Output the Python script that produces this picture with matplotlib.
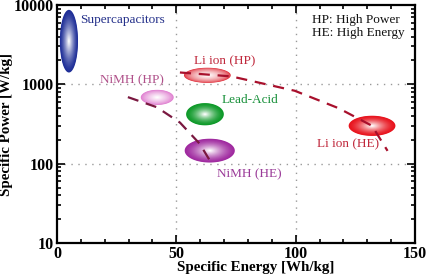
import numpy as np
import matplotlib
matplotlib.use("Agg")
import matplotlib.pyplot as plt
from matplotlib.ticker import FixedLocator, LogLocator, NullFormatter, MultipleLocator
import matplotlib.colors as mcolors

plt.rcParams['font.family'] = ['Liberation Serif', 'DejaVu Serif']

# Technologies: center energy (Wh/kg), half-width (Wh/kg), center power (W/kg), half-height (decades)
names = ["Supercapacitors", "Li ion (HP)", "Lead-Acid", "NiMH (HP)", "NiMH (HE)", "Li ion (HE)"]
energy_c = [5.0, 63.0, 62.0, 42.0, 64.0, 132.0]
energy_hw = [3.8, 9.8, 7.9, 6.9, 10.5, 9.8]
power_c = [3500, 1300, 420, 685, 146, 300]
power_hd = [0.395, 0.095, 0.14, 0.095, 0.15, 0.127]
colors = ["#1f2f98", "#e0303c", "#0f9a2a", "#e07ed0", "#a02aa0", "#e8141e"]
shade_power = [1.4, 0.6, 1.6, 0.8, 1.4, 1.5]

label_text = ["Supercapacitors", "Li ion (HP)", "Lead-Acid", "NiMH (HP)", "NiMH (HE)", "Li ion (HE)"]
label_x = [9.8, 57.5, 69.0, 18.0, 67.0, 109.0]
label_y = [6400, 1950, 630, 1120, 73, 178]
label_colors = ["#24308a", "#c0283c", "#18903a", "#b0508a", "#9a3a98", "#c0283c"]

# Trend lines
li_x = [51.5, 73, 99.6, 118, 132, 138.5]
li_y = [1410, 1260, 830, 500, 300, 145]
nimh_x = [29.7, 41.8, 51.5, 59.8, 64]
nimh_y = [690, 515, 330, 178, 110]

fig = plt.figure(figsize=(4.33, 2.8), dpi=100)
ax = fig.add_axes([57/433, 1 - 243/280, (415-57)/433, (243-5)/280])
ax.set_yscale('log')
ax.set_xlim(0, 150)
ax.set_ylim(10, 10000)

# grid
for gx in [50, 100]:
    ax.axvline(gx, color='#999999', ls=(0, (1, 4)), lw=1.0, zorder=0)
for gy in [100, 1000]:
    ax.axhline(gy, color='#999999', ls=(0, (1, 4)), lw=1.0, zorder=0)

t = np.linspace(0, 2 * np.pi, 200)
for cx, hw, cy, hd, col, sp in zip(energy_c, energy_hw, power_c, power_hd, colors, shade_power):
    base = np.array(mcolors.to_rgb(col))
    n = 25
    lcy = np.log10(cy)
    for i in range(n):
        f = 1 - i / n
        mix = (i / (n - 1)) ** sp
        c = base * (1 - mix) + np.array([1, 1, 1]) * mix
        xs = cx + hw * f * np.cos(t)
        ys = 10 ** (lcy + hd * f * np.sin(t))
        ax.fill(xs, ys, color=c, lw=0, zorder=2)

ax.plot(li_x, li_y, color='#a8102c', lw=1.6, dashes=(5, 3.5), zorder=3)
ax.plot(nimh_x, nimh_y, color='#7a1840', lw=1.6, dashes=(5, 3.5), zorder=3)

for txt, x, y, c in zip(label_text, label_x, label_y, label_colors):
    ax.text(x, y, txt, color=c, fontsize=9.5, va='center', ha='left', zorder=4)

ax.text(107, 7600, "HP: High Power\nHE: High Energy", fontsize=9.5, va='top', ha='left',
        color='#111111', linespacing=1.1)

ax.xaxis.set_major_locator(FixedLocator([0, 50, 100, 150]))
ax.xaxis.set_minor_locator(MultipleLocator(10))
ax.yaxis.set_major_locator(FixedLocator([10, 100, 1000, 10000]))
ax.yaxis.set_minor_locator(LogLocator(base=10, subs=np.arange(2, 10)))
ax.yaxis.set_minor_formatter(NullFormatter())
ax.set_yticklabels(["10", "100", "1000", "10000"])
ax.tick_params(which='both', direction='in', top=True, right=True, width=1.2)
ax.tick_params(which='major', length=6, labelsize=11.5, pad=2)
ax.tick_params(which='minor', length=3)
for lab in ax.get_xticklabels() + ax.get_yticklabels():
    lab.set_fontweight('bold')
for s in ax.spines.values():
    s.set_linewidth(1.6)

ax.set_xlabel("Specific Energy [Wh/kg]", fontsize=10.8, fontweight='bold', labelpad=0)
ax.xaxis.set_label_coords(0.555, -0.075)
ax.set_ylabel("Specific Power [W/kg]", fontsize=10.8, fontweight='bold', labelpad=1)

fig.savefig("out.png", dpi=100)
